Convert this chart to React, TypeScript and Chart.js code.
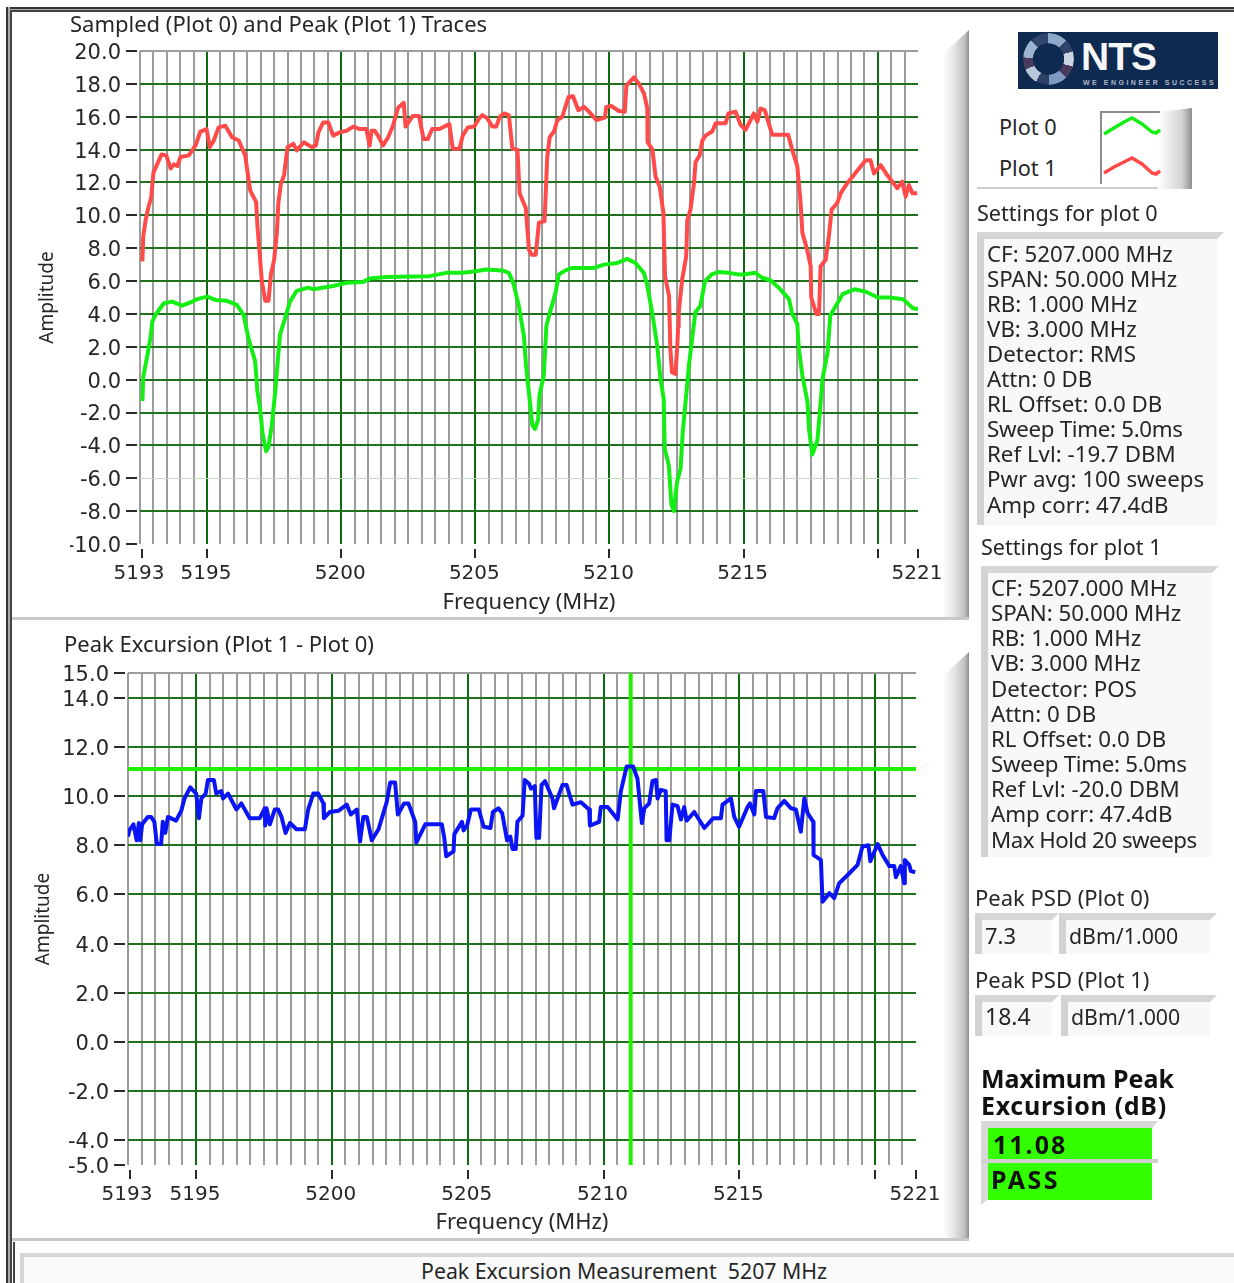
import React, { useEffect, useRef } from "react";
import { Chart, registerables } from "chart.js";

Chart.register(...registerables);

// ---------- data ----------
const xMin = 5192.5;
const xMax = 5221.5;
const xMajorTicks = [5192.5, 5195, 5200, 5205, 5210, 5215, 5220, 5221.5];
const xTickLabels = ["5193", "5195", "5200", "5205", "5210", "5215", "", "5221"];
const topYTicks = [-10, -8, -6, -4, -2, 0, 2, 4, 6, 8, 10, 12, 14, 16, 18, 20];
const bottomYTicks = [-5, -4, -2, 0, 2, 4, 6, 8, 10, 12, 14, 15];

const plot0Freq = [5192.59,5192.62,5192.77,5192.9,5192.96,5193.08,5193.39,5193.7,5194.07,5194.38,5194.63,5195,5195.31,5195.74,5196.11,5196.36,5196.55,5196.79,5196.88,5196.98,5197.07,5197.2,5197.29,5197.41,5197.54,5197.66,5197.72,5197.91,5198.09,5198.34,5198.77,5198.96,5199.7,5200.2,5200.82,5201.06,5201.68,5203.29,5203.91,5204.53,5205.02,5205.38,5206,5206.25,5206.43,5206.62,5206.81,5206.89,5207.02,5207.12,5207.22,5207.34,5207.39,5207.55,5207.65,5207.8,5207.99,5208.11,5208.36,5208.61,5209.42,5209.79,5210.29,5210.66,5210.97,5211.28,5211.4,5211.59,5211.78,5211.9,5212.02,5212.06,5212.21,5212.31,5212.4,5212.52,5212.65,5212.73,5212.86,5212.96,5213.14,5213.2,5213.39,5213.56,5213.81,5214.06,5214.44,5214.81,5215,5215.44,5215.69,5216,5216.31,5216.69,5216.81,5217,5217.06,5217.19,5217.38,5217.44,5217.56,5217.75,5217.84,5217.94,5218.13,5218.23,5218.44,5218.69,5219.13,5219.56,5220,5220.44,5220.94,5221.31,5221.5];
const plot0Amp = [-1.3,0.15,1.45,2.65,3.55,3.95,4.65,4.75,4.5,4.7,4.9,5.05,4.85,4.8,4.55,3.95,2.45,1.15,-0.75,-1.8,-3.3,-4.35,-4.1,-2.8,-0.75,1.65,2.75,3.75,4.75,5.4,5.6,5.5,5.7,5.9,5.95,6.15,6.25,6.3,6.5,6.5,6.6,6.7,6.65,6.5,5.8,4.5,2.65,0.85,-1.15,-2.75,-3,-2.45,-0.95,0.25,3.3,4.2,5.3,6.4,6.65,6.8,6.8,7,7.1,7.35,7.1,6.5,5.8,4.1,2.05,0.05,-1.15,-4.2,-5.2,-7.6,-8,-6.2,-5.4,-3.2,-0.95,0.85,3.3,4.1,4.5,6,6.4,6.55,6.5,6.4,6.4,6.5,6.2,6.05,5.6,4.9,4,3.4,1.85,0.25,-1.35,-3.05,-4.55,-3.7,-2,0.05,1.65,3.9,4.5,5.2,5.5,5.35,5,5,4.9,4.35,4.3];

const plot1Freq = [5192.59,5192.62,5192.71,5192.8,5192.92,5193,5193.14,5193.3,5193.48,5193.64,5193.76,5193.89,5194.01,5194.32,5194.57,5194.75,5194.98,5195.1,5195.25,5195.43,5195.68,5195.93,5196.18,5196.42,5196.55,5196.61,5196.83,5196.88,5196.96,5197.04,5197.17,5197.29,5197.38,5197.5,5197.6,5197.66,5197.75,5197.87,5198,5198.22,5198.34,5198.61,5198.9,5199.06,5199.15,5199.33,5199.52,5199.7,5199.95,5200.2,5200.45,5200.69,5200.94,5201.06,5201.13,5201.25,5201.37,5201.56,5201.75,5201.93,5202.12,5202.33,5202.4,5202.67,5202.9,5203.07,5203.23,5203.39,5203.66,5204.03,5204.16,5204.41,5204.53,5204.72,5204.96,5205.14,5205.26,5205.45,5205.63,5205.78,5205.91,5206.07,5206.25,5206.38,5206.57,5206.65,5206.88,5207,5207.1,5207.25,5207.37,5207.58,5207.68,5207.77,5207.93,5208.06,5208.24,5208.47,5208.64,5208.84,5209.05,5209.24,5209.51,5209.83,5209.88,5210.08,5210.35,5210.57,5210.63,5210.91,5211.1,5211.29,5211.41,5211.42,5211.6,5211.72,5211.87,5212.01,5212.07,5212.22,5212.27,5212.33,5212.46,5212.52,5212.56,5212.58,5212.71,5212.86,5212.9,5213.02,5213.15,5213.21,5213.36,5213.46,5213.58,5213.83,5213.96,5214.33,5214.43,5214.7,5214.89,5215.07,5215.26,5215.38,5215.51,5215.63,5215.79,5216.01,5216.07,5216.66,5216.81,5217,5217.12,5217.19,5217.37,5217.5,5217.52,5217.71,5217.81,5217.87,5218.06,5218.18,5218.28,5218.49,5218.62,5218.86,5219.11,5219.55,5219.73,5219.86,5220.11,5220.35,5220.73,5220.91,5221.04,5221.16,5221.29,5221.47];
const plot1Amp = [7.2,8.7,9.7,10.4,11.1,12.6,13.1,13.7,13.65,12.85,13.1,13,13.55,13.65,14.25,15.1,15.25,14.15,14.55,15.35,15.45,14.75,14.55,13.65,12.15,11.5,10.8,9.3,7.7,6,4.8,4.8,6.4,7.3,8.9,10.8,11.9,12.45,14.15,14.35,13.95,14.45,14.15,14.25,15.05,15.65,15.65,14.85,15.05,15.15,15.4,15.25,15.25,14.25,15.15,15.15,14.85,14.25,14.75,15.45,16.55,16.85,15.4,16.05,16.05,14.65,14.65,15.25,15.25,15.55,14.05,14.05,14.85,15.35,15.4,15.9,16.1,15.9,15.4,15.4,16,16.2,16.1,14.05,14,11.35,10.45,7.9,7.6,7.6,9.55,9.65,13.55,14.75,15.1,15.8,16,17.2,17.25,16.4,16.6,16.3,15.8,15.95,16.6,16.65,16.35,16.3,17.9,18.4,18,17.4,16.5,14.45,14,12.35,11.75,10.15,6.3,5.1,1.85,0.45,0.35,1.85,3.2,4.1,6.1,7.5,9.7,10.35,11.95,13.25,13.65,14.55,14.85,15.1,15.6,15.6,16.2,16.3,15.5,15.2,15.8,16.2,15.7,16.5,16.4,15.2,14.9,14.9,14,13,10.85,8.95,7.9,6.9,5,4,4,6.9,7.3,8.75,10.35,10.75,11.35,11.95,12.45,13.35,13.35,12.55,13.05,12.45,11.65,12.05,11.15,11.85,11.35,11.35];

const excursionFreq = [5192.5,5192.55,5192.7,5192.82,5192.9,5192.95,5193.02,5193.23,5193.35,5193.47,5193.56,5193.72,5193.78,5193.87,5193.97,5194.27,5194.46,5194.58,5194.79,5195.01,5195.11,5195.2,5195.36,5195.44,5195.66,5195.75,5195.93,5196,5196.18,5196.49,5196.67,5196.98,5197.35,5197.53,5197.55,5197.6,5197.72,5197.9,5198.03,5198.15,5198.3,5198.46,5198.7,5199.01,5199.13,5199.32,5199.5,5199.69,5199.71,5199.93,5200.24,5200.55,5200.7,5200.92,5201.04,5201.16,5201.29,5201.47,5201.72,5202.02,5202.15,5202.33,5202.43,5202.66,5202.82,5203.07,5203.11,5203.44,5204.05,5204.14,5204.21,5204.48,5204.51,5204.79,5204.85,5204.98,5205.12,5205.41,5205.59,5205.84,5205.93,5206.14,5206.27,5206.45,5206.57,5206.65,5206.77,5206.83,5207.02,5207.1,5207.26,5207.33,5207.47,5207.53,5207.63,5207.72,5207.85,5208.12,5208.18,5208.49,5208.64,5208.86,5209.17,5209.47,5209.5,5209.84,5209.9,5210.15,5210.52,5210.64,5210.85,5211.09,5211.25,5211.41,5211.5,5211.68,5211.8,5211.93,5211.99,5212.11,5212.29,5212.32,5212.42,5212.54,5212.72,5212.85,5212.97,5213.06,5213.34,5213.71,5214.04,5214.32,5214.38,5214.69,5214.81,5214.99,5215.3,5215.39,5215.55,5215.61,5215.88,5215.98,5216.28,5216.4,5216.65,5216.9,5217.08,5217.26,5217.39,5217.51,5217.72,5217.73,5218,5218.06,5218.31,5218.49,5218.67,5219.04,5219.35,5219.53,5219.75,5219.82,5220.09,5220.27,5220.52,5220.7,5220.76,5220.94,5221.07,5221.09,5221.25,5221.31,5221.47];
const excursionAmp = [8.35,8.6,8.85,8.2,8.9,8.2,8.85,9.15,9.15,8.95,8.05,8.05,8.95,8.5,9.15,9,9.4,9.9,10.35,10.1,9.1,9.9,10.1,10.65,10.65,10.1,10.2,9.9,10.1,9.45,9.7,9.1,9.1,9.5,8.8,9.5,8.85,9.45,9.45,9.15,8.5,8.9,8.65,8.65,9.45,10.1,10.1,9.7,9.1,9.35,9.4,9.65,9.25,9.45,8.15,9.15,9.15,8.2,8.65,9.75,10.55,10.55,9.25,9.7,9.7,8.95,8.1,8.85,8.85,8.3,7.55,7.75,8.45,8.95,8.6,8.8,9.45,9.45,8.75,8.7,9.35,9.5,9.3,8.2,8.35,7.85,7.85,8.95,9.2,10.65,10.5,10.3,10.4,8.3,8.3,10.45,10.6,9.9,9.5,10.45,10.45,9.65,9.75,9.45,8.8,8.95,9.55,9.55,9.05,10.2,11.2,11.2,10.7,8.9,9.5,9.7,10.6,10.65,9.9,10.25,10.2,8.2,8.2,9.65,9.6,9.05,9.55,9,9.35,8.7,9.1,9.1,9.65,9.9,9.15,8.75,9.55,9.7,9.25,10.2,10.2,9.15,9.1,9.5,9.8,9.5,9.45,8.55,9.9,9.3,8.95,7.6,7.4,5.7,6.05,5.85,6.45,6.85,7.2,7.95,8,7.35,8.05,7.6,7.15,7.15,6.7,7.15,6.45,7.4,7.2,6.95,6.9];

const limitLevel = [11.1, 11.1];
const limitFreq = [5192.5, 5221.5];
const cursorFreq = [5211, 5211];
const cursorLevel = [-5, 15];

const settingsPlot0 = ["CF: 5207.000 MHz","SPAN: 50.000 MHz","RB: 1.000 MHz","VB: 3.000 MHz","Detector: RMS","Attn: 0 DB","RL Offset: 0.0 DB","Sweep Time: 5.0ms","Ref Lvl: -19.7 DBM","Pwr avg: 100 sweeps","Amp corr: 47.4dB"];
const settingsPlot1 = ["CF: 5207.000 MHz","SPAN: 50.000 MHz","RB: 1.000 MHz","VB: 3.000 MHz","Detector: POS","Attn: 0 DB","RL Offset: 0.0 DB","Sweep Time: 5.0ms","Ref Lvl: -20.0 DBM","Amp corr: 47.4dB","Max Hold 20 sweeps"];

// ---------- chart helpers ----------
const FONT = '"Noto Sans", sans-serif';
const TICK_FONT = '"DejaVu Sans", sans-serif';
const FS = 22;
const INK = "#262626";
const GRAY = "#9c9c9c";
const DARK_V = "#0f6b0f";
const DARK_H = "#1f701f";

const zip = (xs: number[], ys: number[]) => xs.map((x, i) => ({ x, y: ys[i] }));

function xGridTicks() {
  const out: { value: number }[] = [];
  for (let v = xMin; v <= xMax; v += 0.5) out.push({ value: v });
  return out;
}

const outerTicks = {
  id: "outerTicks",
  afterDraw(chart: any) {
    const { ctx, chartArea, scales } = chart;
    ctx.save();
    ctx.strokeStyle = "#2a2a2a";
    ctx.lineWidth = 2;
    ctx.beginPath();
    for (const t of scales.y.ticks) {
      const py = Math.round(scales.y.getPixelForValue(t.value));
      ctx.moveTo(chartArea.left - 14, py);
      ctx.lineTo(chartArea.left - 3, py);
    }
    for (const v of xMajorTicks) {
      const px = Math.round(scales.x.getPixelForValue(v)) + (v === xMin ? 2 : 0);
      ctx.moveTo(px, chartArea.bottom + 5);
      ctx.lineTo(px, chartArea.bottom + 14);
    }
    ctx.stroke();
    ctx.restore();
  },
};

function buildChart(
  canvas: HTMLCanvasElement,
  o: {
    title: string;
    datasets: any[];
    yMin: number;
    yMax: number;
    yTicks: number[];
    padLeft: number;
    axisW: number;
    padRight: number;
    titleGap: number;
    axisH: number;
    yTitlePad: number;
    noLine: number[];
    grayLine: number[];
    faintLine: number[];
  }
) {
  return new Chart(canvas, {
    type: "line",
    data: { datasets: o.datasets },
    plugins: [outerTicks],
    options: {
      animation: false,
      responsive: false,
      layout: { padding: { left: o.padLeft, right: o.padRight, top: 0, bottom: 0 } },
      elements: { point: { radius: 0 }, line: { tension: 0, borderJoinStyle: "round", borderWidth: 4 } },
      plugins: {
        legend: { display: false },
        tooltip: { enabled: false },
        title: {
          display: true,
          text: o.title,
          align: "start",
          color: INK,
          font: { family: FONT, size: FS, weight: "normal" },
          padding: { top: 1, bottom: o.titleGap },
        },
      },
      scales: {
        x: {
          type: "linear",
          min: xMin,
          max: xMax,
          afterBuildTicks: (s: any) => {
            s.ticks = xGridTicks();
          },
          afterFit: (s: any) => {
            s.height = o.axisH;
          },
          border: { display: false },
          grid: {
            drawTicks: false,
            lineWidth: 2,
            color: (c: any) => {
              const v = c.tick?.value;
              if (v === xMax) return "rgba(0,0,0,0)";
              return xMajorTicks.includes(v) && v !== xMin ? DARK_V : GRAY;
            },
          },
          ticks: {
            autoSkip: false,
            maxRotation: 0,
            minRotation: 0,
            padding: 18,
            labelOffset: -1,
            color: INK,
            font: { family: TICK_FONT, size: 20 },
            callback: (v: any) => {
              const i = xMajorTicks.indexOf(Number(v));
              return i >= 0 ? xTickLabels[i] : "";
            },
          },
          title: {
            display: true,
            text: "Frequency (MHz)",
            color: INK,
            font: { family: FONT, size: FS },
            padding: { top: 0, bottom: 0.8 },
          },
        },
        y: {
          type: "linear",
          min: o.yMin,
          max: o.yMax,
          afterBuildTicks: (s: any) => {
            s.ticks = o.yTicks.map((value) => ({ value }));
          },
          afterFit: (s: any) => {
            s.width = o.axisW;
          },
          border: { display: false },
          grid: {
            drawTicks: false,
            lineWidth: (c: any) => (o.faintLine.includes(c.tick?.value) ? 1 : 2),
            color: (c: any) => {
              const v = c.tick?.value;
              if (o.noLine.includes(v)) return "rgba(0,0,0,0)";
              if (o.grayLine.includes(v)) return GRAY;
              if (o.faintLine.includes(v)) return "#c4dcc4";
              return DARK_H;
            },
          },
          ticks: {
            autoSkip: false,
            padding: 19,
            labelOffset: 2.5,
            color: INK,
            font: { family: TICK_FONT, size: 21 },
            callback: (v: any) => Number(v).toFixed(1),
          },
          title: {
            display: true,
            text: "Amplitude",
            color: INK,
            font: { family: FONT, size: 19 },
            padding: { top: o.yTitlePad, bottom: 0 },
          },
        },
      },
    } as any,
  });
}

// ---------- panel helpers ----------
function T(p: { x: number; y: number; bold?: boolean; size?: number; ls?: number; children: React.ReactNode }) {
  return (
    <div
      style={{
        position: "absolute",
        left: p.x,
        top: p.y - 1,
        transform: "translateY(-50%)",
        whiteSpace: "pre",
        letterSpacing: p.ls ?? 0,
        font: `${p.bold ? "bold " : ""}${p.size ?? FS}px ${FONT}`,
        color: p.bold ? "#111" : INK,
      }}
    >
      {p.children}
    </div>
  );
}

function Bevel(p: { x: number; y: number; w: number; h: number; bw?: number; bg?: string }) {
  const b = p.bw ?? 7;
  return (
    <div
      style={{
        position: "absolute",
        left: p.x,
        top: p.y,
        width: p.w,
        height: p.h,
        boxSizing: "border-box",
        background: p.bg ?? "#f8f8f8",
        backgroundClip: "padding-box",
        borderTop: `${b}px solid #d6d6d6`,
        borderLeft: `${b}px solid #d2d2d2`,
        borderRight: `${b}px solid transparent`,
      }}
    />
  );
}

function Rect(p: { x: number; y: number; w: number; h: number; bg: string; clip?: string }) {
  return (
    <div
      style={{
        position: "absolute",
        left: p.x,
        top: p.y,
        width: p.w,
        height: p.h,
        background: p.bg,
        clipPath: p.clip,
      }}
    />
  );
}

const sideBevel = "linear-gradient(to right, #ffffff 0%, #e4e4e4 45%, #bdbdbd 85%, #8c8c8c 100%)";
const globeFacets =
  "conic-gradient(#8fa8c8 0 12%,#31456b 12% 20%,#c8d4e0 20% 30%,#4a3a5c 30% 38%,#7f9ac0 38% 50%,#2c3f66 50% 58%,#b7c7da 58% 68%,#4a3a5c 68% 76%,#9db4d0 76% 88%,#31456b 88% 100%)";
const lineSpacing = (s: string) => (s.startsWith("Max") ? -0.5 : s.startsWith("Sweep") ? -0.3 : 0);

export default function App() {
  const topRef = useRef<HTMLCanvasElement>(null);
  const botRef = useRef<HTMLCanvasElement>(null);

  useEffect(() => {
    const top = buildChart(topRef.current!, {
      title: "Sampled (Plot 0) and Peak (Plot 1) Traces",
      datasets: [
        { label: "Plot 1", data: zip(plot1Freq, plot1Amp), borderColor: "#ff4a4a" },
        { label: "Plot 0", data: zip(plot0Freq, plot0Amp), borderColor: "#14ee14" },
      ],
      yMin: -10,
      yMax: 20,
      yTicks: topYTicks,
      padLeft: 58,
      axisW: 70,
      padRight: 69,
      titleGap: 11.6,
      axisH: 73,
      yTitlePad: -33.4,
      noLine: [-10],
      grayLine: [20],
      faintLine: [-6],
    });
    const bot = buildChart(botRef.current!, {
      title: "Peak Excursion (Plot 1 - Plot 0)",
      datasets: [
        { label: "Peak Excursion", data: zip(excursionFreq, excursionAmp), borderColor: "#0a14f5" },
        { label: "Limit", data: zip(limitFreq, limitLevel), borderColor: "#22f000" },
        { label: "Cursor", data: zip(cursorFreq, cursorLevel), borderColor: "#22f000" },
      ],
      yMin: -5,
      yMax: 15,
      yTicks: bottomYTicks,
      padLeft: 52,
      axisW: 64,
      padRight: 71,
      titleGap: 13.6,
      axisH: 72,
      yTitlePad: -31.4,
      noLine: [-5],
      grayLine: [15],
      faintLine: [],
    });
    return () => {
      top.destroy();
      bot.destroy();
    };
  }, []);

  return (
    <div style={{ position: "absolute", left: 0, top: 0, width: 1234, height: 1283, overflow: "hidden", background: "#fff" }}>
      {/* window frame */}
      <Rect x={6} y={7} w={1228} h={2} bg="#333" />
      <Rect x={6} y={9} w={1228} h={1} bg="#aaa" />
      <Rect x={10} y={10} w={1224} h={2} bg="#444" />
      <Rect x={6} y={7} w={2} h={1276} bg="#333" />
      <Rect x={8} y={7} w={2} h={1276} bg="#aaa" />
      <Rect x={10} y={10} w={2} h={1273} bg="#444" />
      <Rect x={13} y={1242} w={2} h={41} bg="#444" />

      {/* graph panel bevels */}
      <Rect x={943} y={30} w={26} h={589} bg={sideBevel} clip="polygon(0 24px,100% 0,100% 100%,0 100%)" />
      <Rect x={12} y={617} w={957} h={3} bg="#c8c8c8" />
      <Rect x={943} y={652} w={26} h={589} bg={sideBevel} clip="polygon(0 24px,100% 0,100% 100%,0 100%)" />
      <Rect x={12} y={1238} w={957} h={3} bg="#c8c8c8" />

      <canvas ref={topRef} width={975} height={605} style={{ position: "absolute", left: 12, top: 12 }} />
      <canvas ref={botRef} width={975} height={605} style={{ position: "absolute", left: 12, top: 632 }} />

      {/* logo */}
      <div style={{ position: "absolute", left: 1018, top: 32, width: 200, height: 57, background: "#0e2a50", overflow: "hidden" }}>
        <div
          style={{
            position: "absolute",
            left: 5,
            top: 1,
            width: 51,
            height: 52,
            borderRadius: "50%",
            background: globeFacets,
            WebkitMaskImage: "radial-gradient(circle, transparent 42%, #000 44%)",
            maskImage: "radial-gradient(circle, transparent 42%, #000 44%)",
          }}
        />
        <div style={{ position: "absolute", left: 63, top: 3, font: `bold 39px "Liberation Sans", sans-serif`, color: "#f4f6f8", letterSpacing: -1 }}>NTS</div>
        <div style={{ position: "absolute", left: 65, top: 47, font: `bold 7px "Liberation Sans", sans-serif`, letterSpacing: 2.5, color: "#aeb9c8", whiteSpace: "pre" }}>WE ENGINEER SUCCESS</div>
      </div>

      {/* legend */}
      <T x={999} y={127} size={21.7}>Plot 0</T>
      <T x={999} y={168} size={21.7}>Plot 1</T>
      <Rect x={977} y={187} w={215} h={2} bg="#cfcfcf" />
      <Rect x={1158} y={108} w={34} h={81} bg="linear-gradient(to right,#ffffff,#d4d4d4 70%,#8f8f8f)" clip="polygon(0 4px,100% 0,100% 100%,0 100%)" />
      <Rect x={1100} y={111} w={60} h={2} bg="#8a8a8a" />
      <Rect x={1100} y={111} w={2} h={73} bg="#8a8a8a" />
      <svg style={{ position: "absolute", left: 1100, top: 110 }} width={65} height={75}>
        <polyline points="4,24 14,18 24,12 32,8 42,14 52,22 56,23 60,20" fill="none" stroke="#14ee14" strokeWidth={3.5} />
        <polyline points="4,63 14,57 24,52 32,48 42,54 52,63 56,64 60,61" fill="none" stroke="#ff4a4a" strokeWidth={3.5} />
      </svg>

      {/* settings */}
      <T x={977} y={213} size={21.6}>Settings for plot 0</T>
      <Bevel x={977} y={232} w={247} h={293} />
      {settingsPlot0.map((s, i) => (
        <T key={s} x={987} y={254 + i * 25.05} size={22.3} ls={lineSpacing(s)}>{s}</T>
      ))}
      <T x={981} y={547} size={21.6}>Settings for plot 1</T>
      <Bevel x={981} y={566} w={238} h={291} />
      {settingsPlot1.map((s, i) => (
        <T key={s} x={991} y={588 + i * 25.15} size={22.3} ls={lineSpacing(s)}>{s}</T>
      ))}

      {/* peak PSD */}
      <T x={975} y={898}>Peak PSD (Plot 0)</T>
      <Bevel x={975} y={913} w={84} h={41} />
      <Bevel x={1059} y={913} w={158} h={41} />
      <T x={985} y={936}>7.3</T>
      <T x={1069} y={936} size={21.3}>dBm/1.000</T>
      <T x={975} y={980}>Peak PSD (Plot 1)</T>
      <Bevel x={975} y={995} w={84} h={41} />
      <Bevel x={1061} y={995} w={156} h={41} />
      <T x={985} y={1017} size={23}>18.4</T>
      <T x={1071} y={1017} size={21.3}>dBm/1.000</T>

      {/* result */}
      <T x={981} y={1079} bold size={25}>Maximum Peak</T>
      <T x={981} y={1106} bold size={25} ls={0.7}>Excursion (dB)</T>
      <Rect x={981} y={1121} w={177} h={84} bg="#d8d8d8" clip="polygon(0 0,100% 0,calc(100% - 6px) 7px,7px 7px,7px calc(100% - 6px),0 100%)" />
      <Rect x={988} y={1128} w={164} h={31} bg="#33ff00" />
      <Rect x={982} y={1159} w={176} h={4} bg="#d0d0d0" />
      <Rect x={988} y={1163} w={164} h={37} bg="#33ff00" />
      <T x={993} y={1145} bold size={25} ls={2}>11.08</T>
      <T x={991} y={1180} bold size={25} ls={2.5}>PASS</T>

      {/* status bar */}
      <Rect x={20} y={1253} w={1214} h={30} bg="#fafafa" />
      <Rect x={20} y={1253} w={1214} h={4} bg="#d6d6d6" />
      <Rect x={20} y={1253} w={4} h={30} bg="#d6d6d6" />
      <T x={421} y={1271} size={21.3}>Peak Excursion Measurement  5207 MHz</T>
    </div>
  );
}
